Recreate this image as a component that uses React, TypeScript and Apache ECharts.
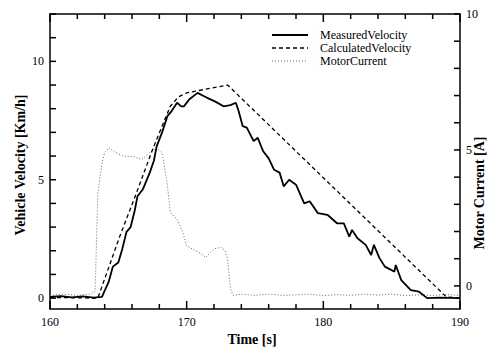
import React, { useEffect, useRef } from "react";
import * as echarts from "echarts";

const measuredTime = [160, 160.8, 161.6, 162.4, 163.2, 163.8, 164.3, 164.6, 165.0, 165.3, 165.6, 165.9, 166.2, 166.4, 166.8, 167.3, 167.6, 167.8, 168.2, 168.6, 168.9, 169.3, 169.6, 169.8, 170.2, 170.8, 171.2, 171.5, 172.1, 172.7, 173.2, 173.6, 173.8, 174.1, 174.4, 174.9, 175.2, 175.6, 176.0, 176.4, 176.8, 177.1, 177.5, 178.0, 178.6, 179.0, 179.6, 180.3, 181.0, 181.5, 181.9, 182.1, 182.5, 183.1, 183.5, 183.7, 184.1, 184.5, 185.2, 185.3, 185.7, 186.4, 187.0, 187.6, 188.5, 190];
const measuredVelocity = [0.05, 0.08, 0.03, 0.07, 0.02, 0.05, 0.7, 1.33, 1.5, 2.1, 2.8, 3.0, 3.7, 4.3, 4.6, 5.3, 5.8, 6.4, 7.0, 7.7, 7.9, 8.25, 8.1, 8.1, 8.4, 8.67, 8.55, 8.46, 8.3, 8.1, 8.15, 8.25, 7.9, 7.26, 7.2, 6.63, 6.77, 6.2, 5.9, 5.42, 5.3, 4.72, 5.0, 4.79, 4.0, 4.09, 3.59, 3.52, 3.16, 3.16, 2.6, 2.88, 2.53, 2.25, 1.82, 2.25, 1.7, 1.33, 1.12, 1.4, 0.76, 0.34, 0.27, 0.0, 0.02, 0.0];

const calculatedTime = [160, 163.5, 165.1, 166.3, 167.5, 168.3, 168.8, 169.4, 170.0, 173.0, 189.0, 190];
const calculatedVelocity = [0.03, 0.0, 2.6, 4.4, 6.27, 7.4, 8.1, 8.5, 8.67, 9.0, 0.05, 0.0];

const currentTime = [160, 161, 162, 163, 163.3, 163.5, 163.8, 164.0, 164.3, 164.8, 165.4, 166.1, 166.7, 167.3, 167.8, 168.2, 168.4, 168.6, 168.8, 169.3, 169.7, 170.0, 170.4, 171.0, 171.4, 172.0, 172.5, 172.8, 173.0, 173.2, 173.4, 174, 175, 176, 177, 178, 179, 180, 181, 182, 183, 184, 185, 186, 187, 188, 189, 190];
const motorCurrent = [-0.35, -0.3, -0.35, -0.3, -0.2, 3.4, 4.5, 4.9, 5.08, 4.9, 4.77, 4.75, 4.65, 4.9, 5.08, 4.9, 4.3, 3.67, 2.7, 2.45, 2.0, 1.48, 1.36, 1.2, 1.05, 1.36, 1.42, 1.3, 0.99, -0.1, -0.35, -0.3, -0.35, -0.3, -0.35, -0.33, -0.3, -0.36, -0.32, -0.35, -0.3, -0.34, -0.3, -0.36, -0.33, -0.35, -0.32, -0.35];

const timeMajorTicks = [160, 170, 180, 190];
const timeMinorTicks = [162, 164, 166, 168, 172, 174, 176, 178, 182, 184, 186, 188];
const velocityTicks = [0, 1, 2, 3, 4, 5, 6, 7, 8, 9, 10, 11, 12];
const velocityLabels = [0, 5, 10];
const currentTicks = [0, 1, 2, 3, 4, 5, 6, 7, 8, 9, 10];
const currentLabels = [0, 5, 10];
const seriesNames = ["MeasuredVelocity", "CalculatedVelocity", "MotorCurrent"];

const zip = (a: number[], b: number[]) => a.map((x, i) => [x, b[i]]);

const SERIF = "'Liberation Serif', 'DejaVu Serif', serif";
const T_MIN = 160;
const T_MAX = 190;
const V_MIN = -0.46;
const V_MAX = 12;
const C_MIN = -0.85;
const C_MAX = 10;

export default function App() {
  const ref = useRef<HTMLDivElement>(null);
  useEffect(() => {
    if (!ref.current) return;
    const chart = echarts.init(ref.current, undefined, { renderer: "svg" });
    const labelStyle = { fontFamily: SERIF, fontSize: 12, color: "#000" };
    const axisLine = { show: true, onZero: false, lineStyle: { color: "#000", width: 1.5 } };

    chart.setOption({
      animation: false,
      grid: { left: 50, right: 44, top: 14, bottom: 38 },
      xAxis: [
        {
          type: "value",
          min: T_MIN,
          max: T_MAX,
          interval: 10,
          position: "bottom",
          splitLine: { show: false },
          axisLine,
          axisTick: { show: false },
          axisLabel: { show: true, margin: 7, ...labelStyle },
        },
        {
          type: "value",
          min: T_MIN,
          max: T_MAX,
          interval: 10,
          position: "top",
          splitLine: { show: false },
          axisLine,
          axisTick: { show: false },
          axisLabel: { show: false },
        },
      ],
      yAxis: [
        {
          type: "value",
          min: V_MIN,
          max: V_MAX,
          position: "left",
          splitLine: { show: false },
          axisLine,
          axisTick: { show: false },
          axisLabel: { show: true, customValues: velocityLabels, margin: 6, ...labelStyle },
        },
        {
          type: "value",
          min: C_MIN,
          max: C_MAX,
          position: "right",
          splitLine: { show: false },
          axisLine,
          axisTick: { show: false },
          axisLabel: { show: true, customValues: currentLabels, margin: 6, ...labelStyle },
        },
      ],
      series: [
        {
          name: seriesNames[0],
          type: "line",
          xAxisIndex: 0,
          yAxisIndex: 0,
          data: zip(measuredTime, measuredVelocity),
          symbol: "none",
          lineStyle: { color: "#000", width: 1.8, type: "solid" },
          z: 5,
        },
        {
          name: seriesNames[1],
          type: "line",
          xAxisIndex: 0,
          yAxisIndex: 0,
          data: zip(calculatedTime, calculatedVelocity),
          symbol: "none",
          lineStyle: { color: "#000", width: 1.3, type: [4, 3] },
          z: 4,
        },
        {
          name: seriesNames[2],
          type: "line",
          xAxisIndex: 0,
          yAxisIndex: 1,
          data: zip(currentTime, motorCurrent),
          symbol: "none",
          lineStyle: { color: "#666", width: 1, type: [1, 2] },
          z: 3,
        },
      ],
    });

    // Tick marks placed through the chart's own scales (grid finder returns [x, y]).
    const velPt = (t: number, v: number) =>
      chart.convertToPixel({ xAxisIndex: 0, yAxisIndex: 0 } as any, [t, v]) as unknown as number[];
    const curPt = (t: number, c: number) =>
      chart.convertToPixel({ xAxisIndex: 0, yAxisIndex: 1 } as any, [t, c]) as unknown as number[];
    const tickStyle = { stroke: "#000", lineWidth: 1.5 };
    const ticks: any[] = [];
    const addTimeTicks = (list: number[], len: number) => {
      list.forEach((t) => {
        const b = velPt(t, V_MIN);
        const tp = velPt(t, V_MAX);
        ticks.push({ type: "line", shape: { x1: b[0], y1: b[1], x2: b[0], y2: b[1] - len }, style: tickStyle });
        ticks.push({ type: "line", shape: { x1: tp[0], y1: tp[1], x2: tp[0], y2: tp[1] + len }, style: tickStyle });
      });
    };
    addTimeTicks(timeMajorTicks, 8);
    addTimeTicks(timeMinorTicks, 5);
    velocityTicks.forEach((v) => {
      const p = velPt(T_MIN, v);
      ticks.push({ type: "line", shape: { x1: p[0], y1: p[1], x2: p[0] + 6, y2: p[1] }, style: tickStyle });
    });
    currentTicks.forEach((c) => {
      const p = curPt(T_MAX, c);
      ticks.push({ type: "line", shape: { x1: p[0], y1: p[1], x2: p[0] - 6, y2: p[1] }, style: tickStyle });
    });

    const legendY = [35, 48, 61];
    const legendDash: any[] = [null, [4, 3], [1, 2]];
    const legendColor = ["#000", "#000", "#666"];
    const legendWidth = [1.8, 1.3, 1];
    const legendGraphics: any[] = [];
    seriesNames.forEach((n, i) => {
      legendGraphics.push({
        type: "line",
        shape: { x1: 272, y1: legendY[i], x2: 308, y2: legendY[i] },
        style: { stroke: legendColor[i], lineWidth: legendWidth[i], lineDash: legendDash[i] },
      });
      legendGraphics.push({
        type: "text",
        x: 320,
        y: legendY[i],
        style: { text: n, font: `12px ${SERIF}`, fill: "#000", verticalAlign: "middle" },
      });
    });

    chart.setOption({
      graphic: [
        ...legendGraphics,
        ...ticks,
        {
          type: "text",
          x: 20,
          y: 165,
          rotation: Math.PI / 2,
          style: {
            text: "Vehicle Velocity [Km/h]",
            font: `bold 14px ${SERIF}`,
            fill: "#000",
            align: "center",
            verticalAlign: "middle",
          },
        },
        {
          type: "text",
          x: 479,
          y: 193,
          rotation: Math.PI / 2,
          style: {
            text: "Motor Current [A]",
            font: `bold 14px ${SERIF}`,
            fill: "#000",
            align: "center",
            verticalAlign: "middle",
          },
        },
        {
          type: "text",
          x: 252,
          y: 339,
          style: {
            text: "Time [s]",
            font: `bold 14px ${SERIF}`,
            fill: "#000",
            align: "center",
            verticalAlign: "middle",
          },
        },
      ],
    });
    return () => chart.dispose();
  }, []);
  return (
    <div
      ref={ref}
      style={{ position: "fixed", left: 0, top: 0, width: 504, height: 347, background: "#fff" }}
    />
  );
}
